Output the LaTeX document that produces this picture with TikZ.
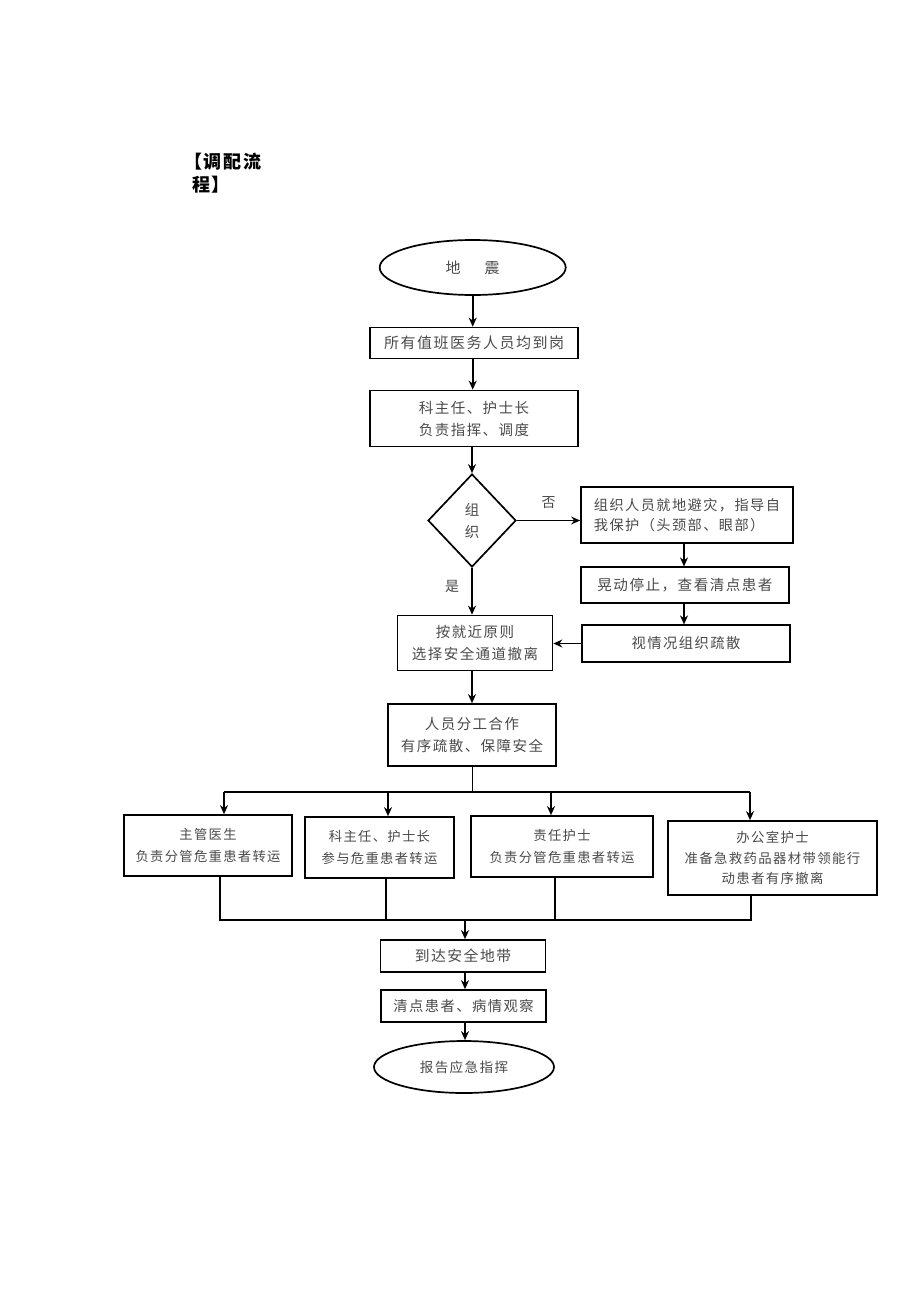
\documentclass[tikz,border=0pt]{standalone}
\usepackage{fontspec}
\usetikzlibrary{shapes.geometric,arrows.meta}
\newfontfamily\cjk[LetterSpace=10]{Noto Sans CJK SC}
\newfontfamily\cjkplain{Noto Sans CJK SC}
\definecolor{txt}{HTML}{4A4A4A}
\newcommand{\fs}[1]{\cjk\fontsize{#1}{22}\selectfont}
\newcommand{\fsb}[1]{\cjk\fontsize{#1}{20.5}\selectfont}
\tikzset{
  box/.style={draw=black, line width=1.7pt, rectangle, inner sep=0pt, align=center, text=txt},
  oval/.style={draw=black, line width=1.7pt, ellipse, inner sep=0pt, text=txt},
  dia/.style={draw=black, line width=1.7pt, diamond, inner sep=0pt, text=txt, align=center},
  arr/.style={line width=1.7pt, -{Stealth[length=9pt,width=8pt]}},
  ln/.style={line width=1.7pt},
  lbl/.style={text=txt, inner sep=0pt, font=\cjkplain\fontsize{14}{16}\selectfont},
}
\begin{document}
\begin{tikzpicture}[x=1pt,y=-1pt]
\useasboundingbox (0,0) rectangle (920,1301);
% title
\node[anchor=west, inner sep=0pt, text=black, font=\cjk\bfseries\fontsize{18}{20}\selectfont] (t1) at (184,162) {【调配流};
\node[anchor=west, inner sep=0pt, text=black, font=\cjk\bfseries\fontsize{18}{20}\selectfont] (t2) at (192,185) {程】};

% main column
\node[oval, minimum width=186pt, minimum height=55pt, font=\fs{15}] (quake) at (472.7,267.5) {地\hspace{24pt}震};
\node[box, minimum width=208pt, minimum height=31pt, font=\fs{15}] (b1) at (474,343) {所有值班医务人员均到岗};
\node[box, minimum width=208pt, minimum height=56pt, font=\fs{14.5}] (b2) at (474,418.5) {科主任、护士长\\ 负责指挥、调度};
\node[dia, minimum width=88pt, minimum height=93pt, font=\fs{14.5}] (d) at (472,520.5) {组\\织};

\node[box, minimum width=212pt, minimum height=56pt, align=left, font=\fsb{14.2}] (b3) at (687,515) {组织人员就地避灾，指导自\\我保护（头颈部、眼部）};
\node[box, minimum width=208pt, minimum height=35.5pt, font=\fs{14.6}] (b4) at (685,585) {晃动停止，查看清点患者};
\node[box, minimum width=208pt, minimum height=36.5pt, font=\fs{14.3}] (b5) at (686,643.5) {视情况组织疏散};

\node[box, minimum width=155pt, minimum height=55pt, font=\fs{14.5}] (b6) at (475,643) {按就近原则\\ 选择安全通道撤离};
\node[box, minimum width=168pt, minimum height=62pt, font=\fs{14.5}] (b7) at (472,735) {人员分工合作\\ 有序疏散、保障安全};

% four parallel boxes
\node[box, minimum width=168pt, minimum height=61pt, font=\fs{13.3}] (bA) at (208,845.5) {主管医生\\ 负责分管危重患者转运};
\node[box, minimum width=149pt, minimum height=61pt, font=\fs{13.3}] (bB) at (379.5,847.5) {科主任、护士长\\ 参与危重患者转运};
\node[box, minimum width=182pt, minimum height=61pt, font=\fs{13.3}] (bC) at (562,846.5) {责任护士\\ 负责分管危重患者转运};
\node[box, minimum width=209pt, minimum height=74pt, font=\fsb{13.4}] (bD) at (772.5,858) {办公室护士\\准备急救药品器材带领能行\\动患者有序撤离};

% bottom column
\node[box, minimum width=165pt, minimum height=32pt, font=\fs{14.8}] (b8) at (463,956) {到达安全地带};
\node[box, minimum width=165pt, minimum height=32pt, font=\fs{14.3}] (b9) at (463.5,1006) {清点患者、病情观察};
\node[oval, minimum width=180pt, minimum height=52pt, font=\fs{13.6}] (rep) at (464,1067) {报告应急指挥};

% connectors main
\draw[arr] (quake.south) -- (quake.south |- b1.north);
\draw[arr] (quake.south |- b1.south) -- (quake.south |- b2.north);
\draw[arr] (d.north |- b2.south) -- (d.north);
\draw[arr] (d.east) -- (b3.west |- d.east) node[lbl, midway, above=11pt] (no) {否};
\coordinate (c34) at (684,0);
\draw[arr] (c34 |- b3.south) -- (c34 |- b4.north);
\draw[arr] (c34 |- b4.south) -- (c34 |- b5.north);
\draw[arr] (b5.west) -- (b6.east |- b5.west);
\draw[arr] (d.south) -- (d.south |- b6.north) node[lbl, pos=0.4, left=12pt] (yes) {是};
\draw[arr] (d.south |- b6.south) -- (d.south |- b7.north);

% split
\coordinate (s0) at (472.5,792);
\coordinate (sA) at (224,792);
\coordinate (sB) at (388,792);
\coordinate (sC) at (551,792);
\coordinate (sD) at (750,792);
\draw[ln] (s0 |- b7.south) -- (s0);
\draw[ln] (sA) -- (sD);
\draw[arr] (sA) -- (sA |- bA.north);
\draw[arr] (sB) -- (sB |- bB.north);
\draw[arr] (sC) -- (sC |- bC.north);
\draw[arr] (sD) -- (sD |- bD.north);

% merge
\coordinate (mA) at (220,920);
\coordinate (mB) at (386,920);
\coordinate (mC) at (555,920);
\coordinate (mD) at (751,920);
\coordinate (m0) at (465,920);
\draw[ln] (mA |- bA.south) -- (mA) -- (mD) -- (mD |- bD.south);
\draw[ln] (mB |- bB.south) -- (mB);
\draw[ln] (mC |- bC.south) -- (mC);
\draw[arr] (m0) -- (m0 |- b8.north);
\draw[arr] (m0 |- b8.south) -- (m0 |- b9.north);
\draw[arr] (m0 |- b9.south) -- (m0 |- rep.north);
\end{tikzpicture}
\end{document}
